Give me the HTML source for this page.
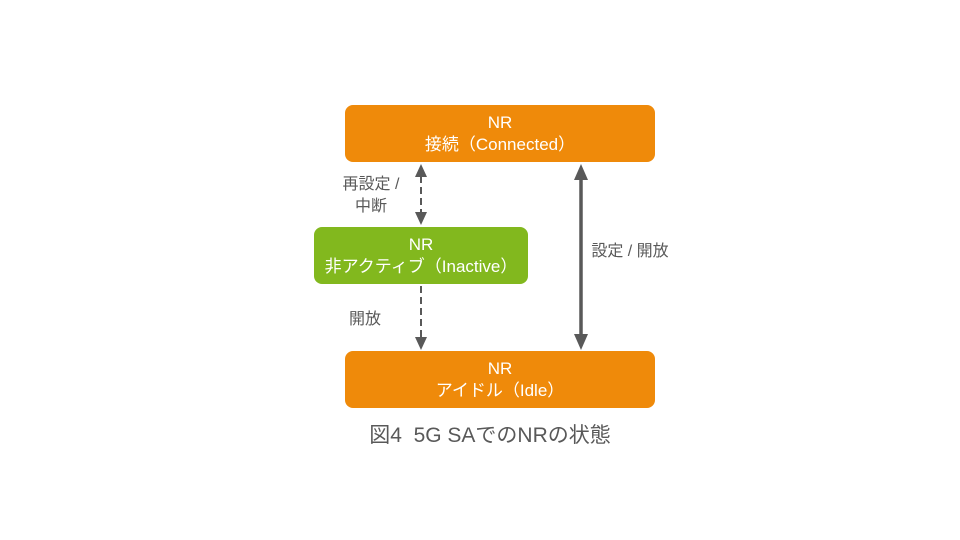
<!DOCTYPE html>
<html><head><meta charset="utf-8"><style>
body{margin:0;width:960px;height:540px;background:#fff;position:relative;overflow:hidden;font-family:"Liberation Sans","Noto Sans CJK JP",sans-serif}
.b{position:absolute;border-radius:8px;color:#fff;text-align:center;font-size:17px;line-height:22px;display:flex;flex-direction:column;justify-content:center}
.t{position:absolute;color:#595959;font-size:15px;line-height:22px;text-align:center}
</style></head><body>
<div class="b" style="left:345px;top:105px;width:310px;height:57px;background:#ef8a0a">NR<br>接続（Connected）</div>
<div class="b" style="left:314px;top:227px;width:214px;height:57px;background:#82b81e">NR<br>非アクティブ（Inactive）</div>
<div class="b" style="left:345px;top:351px;width:310px;height:57px;background:#ef8a0a">NR<br>アイドル（Idle）</div>
<svg width="960" height="540" style="position:absolute;left:0;top:0">
<g stroke="#595959" stroke-width="2" stroke-dasharray="7,4" fill="none">
<line x1="421" y1="176" x2="421" y2="214"/>
<line x1="421" y1="286" x2="421" y2="338"/>
</g>
<line x1="581" y1="176" x2="581" y2="338" stroke="#595959" stroke-width="3.5"/>
<g fill="#595959">
<polygon points="421,164 415,177 427,177"/>
<polygon points="421,225 415,212 427,212"/>
<polygon points="421,350 415,337 427,337"/>
<polygon points="581,164 574,180 588,180"/>
<polygon points="581,350 574,334 588,334"/>
</g>
</svg>
<div class="t" style="left:328px;top:174px;width:86px;font-size:16px">再設定 /<br>中断</div>
<div class="t" style="left:340px;top:309px;width:50px;font-size:16px">開放</div>
<div class="t" style="left:584px;top:241px;width:92px;font-size:16px">設定 / 開放</div>
<div class="t" style="left:330px;top:423px;width:320px;font-size:21px;line-height:26px">図4&nbsp;&nbsp;5G SAでのNRの状態</div>
</body></html>
